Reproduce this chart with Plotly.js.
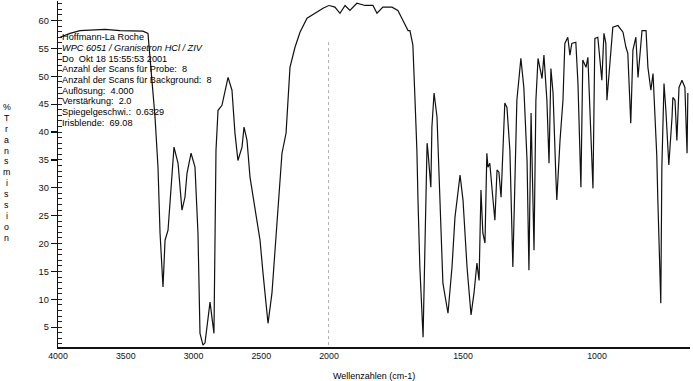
<!DOCTYPE html>
<html>
<head>
<meta charset="utf-8">
<script src="https://cdn.plot.ly/plotly-3.0.1.min.js"></script>
<style>html,body{margin:0;padding:0;background:#fff;}#chart{width:693px;height:381px;}</style>
</head>
<body>
<div id="chart"></div>
<script>
// Wavenumbers (cm-1) and % transmission
const wavenumbers = [
  3985,3911,3838,3727,3653,3542,3432,3373,3336,3314,3284,3262,3247,3225,3210,3188,3166,3144,3114,3085,
  3063,3048,3018,2989,2967,2952,2930,2915,2878,2863,2849,2834,2819,2790,2768,2745,2716,2694,2672,2642,
  2627,2605,2583,2561,2531,2509,2487,2458,2450,2421,2398,2376,2347,2317,2288,2251,2214,2162,2103,2044,
  2000,1978,1959,1940,1922,1896,1866,1836,1821,1799,1765,1743,1724,1705,1698,1687,1679,1672,1668,1661,
  1649,1642,1634,1631,1620,1616,1608,1597,1586,1575,1556,1541,1530,1511,1500,1485,1470,1459,1448,1440,
  1433,1426,1418,1411,1407,1400,1388,1381,1373,1366,1358,1351,1344,1336,1325,1314,1306,1299,1284,1273,
  1261,1254,1246,1239,1235,1228,1220,1205,1198,1187,1179,1172,1164,1153,1150,1138,1127,1120,1109,1101,
  1094,1079,1071,1060,1053,1041,1034,1026,1015,1008,997,989,982,974,967,963,952,941,922,903,
  892,885,874,866,855,847,832,817,810,799,791,784,777,773,762,758,750,743,732,720,
  717,709,702,694,683,672,664,661
];
const transmission = [
  57.0,57.7,58.2,58.4,58.4,58.2,58.2,58.1,57.7,51.6,42.7,33.7,21.9,12.2,20.6,22.4,30.8,37.3,34.4,26.0,
  28.3,32.6,36.2,33.7,21.9,3.9,1.8,2.2,9.5,6.3,3.9,36.7,43.9,44.8,47.0,49.8,47.5,39.8,34.9,37.3,
  40.9,38.5,31.9,28.3,23.7,20.6,14.7,7.5,5.7,11.1,18.8,26.5,36.2,39.8,51.6,55.2,57.9,60.4,61.3,62.2,
  62.7,62.4,61.3,62.7,61.8,63.1,62.7,62.7,61.3,62.4,62.4,61.8,60.0,58.2,58.2,55.6,45.7,36.7,27.8,15.8,
  3.2,21.9,38.0,36.7,30.1,40.9,47.0,42.7,27.8,12.9,7.5,15.8,24.7,32.3,27.8,15.8,7.2,11.1,16.5,13.4,
  29.6,21.9,20.1,36.2,33.7,34.4,27.8,24.2,33.2,32.8,28.3,36.7,45.2,44.4,36.7,15.8,29.6,45.7,53.2,48.0,
  34.9,15.2,43.4,27.8,18.8,45.7,53.2,49.6,53.8,45.7,34.4,51.4,47.0,31.4,27.8,38.5,45.7,55.9,57.0,53.8,
  55.9,56.1,48.7,30.1,52.9,51.6,53.4,43.4,29.9,56.8,57.0,52.9,49.3,57.7,55.9,45.7,51.6,58.8,59.1,57.9,
  55.2,54.1,41.6,54.7,57.0,49.8,58.2,58.2,51.6,47.5,50.5,43.9,35.8,27.8,9.3,33.7,48.7,43.9,34.1,42.7,
  46.2,45.7,38.5,48.0,49.3,48.0,36.2,47.0
];
const xTicksHigh = [4000,3500,3000,2500,2000];
const xTicksLow = [1500,1000];
const headerLines = [
  "Hoffmann-La Roche",
  "<i>WPC 6051 / Granisetron HCl / ZIV</i>",
  "Do  Okt 18 15:55:53 2001",
  "Anzahl der Scans für Probe:  8",
  "Anzahl der Scans für Background:  8",
  "Auflösung:  4.000",
  "Verstärkung:  2.0",
  "Spiegelgeschwi.:  0.6329",
  "Irisblende:  69.08"
];
const yTitleLetters = ["%","T","r","a","n","s","m","i","s","s","i","o","n"];

const hiX=[],hiY=[],loX=[],loY=[];
for (let i=0;i<wavenumbers.length;i++){
  if (wavenumbers[i]>=2000){hiX.push(wavenumbers[i]);hiY.push(transmission[i]);}
  if (wavenumbers[i]<=2000){loX.push(wavenumbers[i]);loY.push(transmission[i]);}
}
const lineStyle = {color:'#111', width:1.2};
const traces = [
  {x:hiX, y:hiY, type:'scatter', mode:'lines', line:lineStyle, xaxis:'x', yaxis:'y', hoverinfo:'skip'},
  {x:loX, y:loY, type:'scatter', mode:'lines', line:lineStyle, xaxis:'x2', yaxis:'y', hoverinfo:'skip'}
];
const FONT = 'Liberation Sans, Arial, sans-serif';
const split = (329-58)/632;
const plotTop = 1, plotH = 346;
const pyToPaper = py => 1 - (py - plotTop)/plotH;
const yRange = [1.45,63.5];

const annotations = [];
headerLines.forEach((t,i)=>{
  annotations.push({xref:'paper', yref:'paper', x:0.003, y:pyToPaper(37 + i*10.75),
    xanchor:'left', yanchor:'middle', align:'left', showarrow:false, text:t,
    font:{size:9.2, family:FONT, color:'#000'}});
});
yTitleLetters.forEach((t,i)=>{
  annotations.push({xref:'paper', yref:'paper', x:-0.081, y:pyToPaper(107 + i*10.9),
    xanchor:'center', yanchor:'middle', showarrow:false, text:t,
    font:{size:8.8, family:FONT, color:'#000'}});
});
annotations.push({xref:'paper', yref:'paper', x:0.5, y:pyToPaper(376), xanchor:'center', yanchor:'middle',
  showarrow:false, text:'Wellenzahlen (cm-1)', font:{size:9, family:FONT, color:'#000'}});

const layout = {
  width:693, height:381,
  margin:{l:58, r:3, t:1, b:34},
  paper_bgcolor:'#fff', plot_bgcolor:'#fff',
  showlegend:false,
  font:{family:FONT, color:'#111', size:9},
  xaxis:{domain:[0,split], range:[4000,2000], autorange:false, showgrid:false, zeroline:false,
    showline:true, linecolor:'#111', linewidth:1.5, ticks:'', tickmode:'array', tickvals:xTicksHigh,
    ticktext:xTicksHigh.map(String), tickfont:{size:8.8, family:FONT}, anchor:'y'},
  xaxis2:{domain:[split,1], range:[2000,653], autorange:false, showgrid:false, zeroline:false,
    showline:true, linecolor:'#111', linewidth:1.5, ticks:'', tickmode:'array', tickvals:xTicksLow,
    ticktext:xTicksLow.map(String), tickfont:{size:8.8, family:FONT}, anchor:'y'},
  yaxis:{range:yRange, autorange:false, showgrid:false, zeroline:false,
    showline:true, linecolor:'#111', linewidth:1.3, ticks:'outside', ticklen:6, tickwidth:1.2,
    tickcolor:'#111', tickmode:'linear', tick0:0, dtick:5, tickfont:{size:9.3, family:FONT},
    minor:{dtick:1, tick0:0, ticks:'inside', ticklen:4, tickwidth:1, tickcolor:'#222'}},
  shapes:[
    {type:'line', xref:'x', yref:'y', x0:2000, x1:2000, y0:1.8, y1:56.5,
     line:{color:'#666', width:1, dash:'dot'}}
  ],
  annotations: annotations
};
Plotly.newPlot('chart', traces, layout, {staticPlot:true, displayModeBar:false});
</script>
</body>
</html>
